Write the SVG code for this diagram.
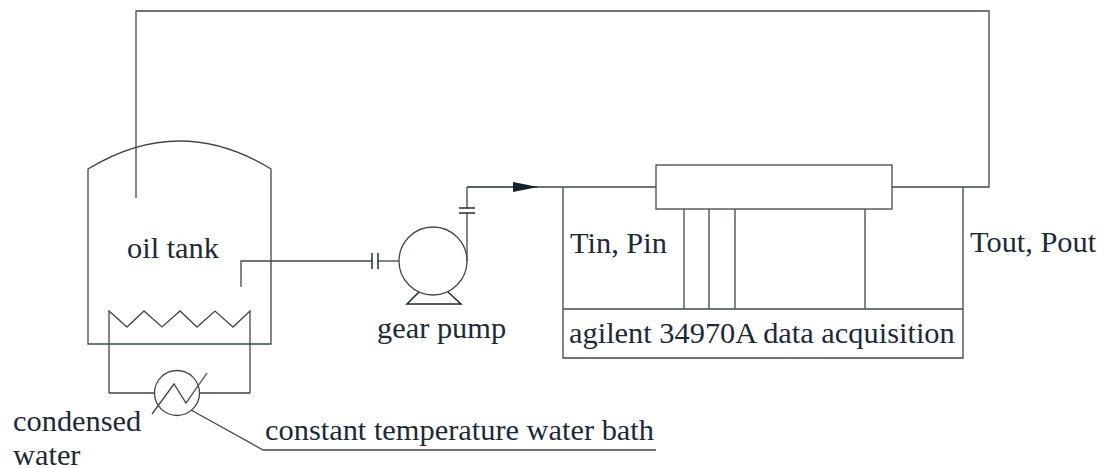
<svg xmlns="http://www.w3.org/2000/svg" width="1104" height="468" viewBox="0 0 1104 468">
<style>
.l{fill:none;stroke:#3f484f;stroke-width:1.3}
.d{fill:none;stroke:#1f2c36;stroke-width:1.5}
text{font-family:"Liberation Serif","Times New Roman",serif;font-size:30.4px;fill:#1c2a36}
</style>
<defs><marker id="a" markerUnits="userSpaceOnUse" markerWidth="26" markerHeight="10" refX="25" refY="5" orient="auto"><path d="M0 0L25 5L0 10Z" fill="#13222e"/></marker></defs>
<rect width="1104" height="468" fill="#fff"/>
<g id="connectors">
<path class="l" d="M136 198V11H989V187H892"/>
<path class="l" d="M241 287V261H372"/>
<path class="l" d="M378 261H399"/>
<path class="l" d="M467 261V213"/>
<path class="l" d="M467 208V187"/>
<path class="d" d="M467 187H538" marker-end="url(#a)"/>
<path class="l" d="M538 187H656"/>
<path class="l" d="M684 209V309M709 209V309M735 209V309M865 209V309"/>
<path class="l" d="M191 410L263 450H656"/>
<path class="l" d="M109 393H155M199 393H250"/>
</g>
<g id="oil-tank">
<path class="l" d="M88 169Q180 113 271 169V344H88Z"/>
<text x="127" y="258">oil tank</text>
</g>
<g id="coil">
<path class="l" d="M109 393V311L127 327L144 311L162 327L180 311L197 327L215 311L233 327L250 311V393"/>
</g>
<g id="heat-exchanger">
<circle class="l" cx="177" cy="393" r="22.5"/>
<path class="l" d="M152 414L174 384L186 403L207 373"/>
</g>
<g id="gear-pump">
<circle class="l" cx="433" cy="261" r="34"/>
<path class="d" d="M419 292L407 304H461L448 292"/>
<path class="d" d="M372 253V269M378 253V269M459 208H475M459 213H475"/>
<text x="377" y="338">gear pump</text>
</g>
<g id="sensor"><rect class="l" x="656" y="165" width="236" height="44"/></g>
<g id="daq">
<path class="l" d="M563 187V358H963V187"/>
<path class="l" d="M563 309H963"/>
<text x="569" y="343">agilent 34970A data acquisition</text>
</g>
<g id="labels">
<text x="570" y="253">Tin, Pin</text>
<text x="970" y="252">Tout, Pout</text>
<text x="13" y="431">condensed</text>
<text x="13" y="465">water</text>
<text x="265" y="440">constant temperature water bath</text>
</g>
</svg>
